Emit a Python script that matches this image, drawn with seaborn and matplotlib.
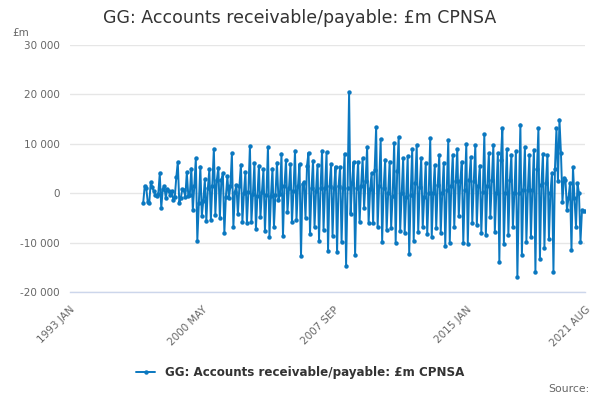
import matplotlib

matplotlib.use("Agg")
import matplotlib.pyplot as plt
from matplotlib.lines import Line2D
import numpy as np
import pandas as pd
import seaborn as sns

TITLE = "GG: Accounts receivable/payable: £m CPNSA"
UNIT = "£m"
AXIS_START = "1993-01"
DATA_START = "1997-02"
DATA_END = "2021-08"

# monthly values, £m (1997 starts in February)
v1997 = [-1900, 1500, 1100, -1800, -2000, 2200, 1300, 400, -300, -600, -200]
v1998 = [4000, -3000, 800, 1400, -900, 800, 400, -300, 500, -1300, -800, 3200]
v1999 = [6300, -1900, -1000, 800, 700, -700, 4200, -500, -300, 5000, -3400, 1500]
v2000 = [7100, -9600, -2000, 5400, -4600, -1500, 2800, -5700, 1000, 4800, -5500, 1500]
v2001 = [9000, -4400, 2700, 5200, -5000, 2700, 4000, -8000, -700, 3400, -1000, 1400]
v2002 = [8100, -6800, 200, 1700, -4200, 1400, 5800, -5800, 0, 4300, -6000, 300]
v2003 = [9600, -5800, -200, 6100, -7300, -500, 5600, -4900, 200, 4800, -7700, -300]
v2004 = [9400, -8800, -600, 5000, -6800, -400, 6200, -1300, -200, 8000, -8700, 1500]
v2005 = [6700, -3900, 1000, 5900, -5900, 500, 8600, -5500, 1500, 5900, -12800, 1900]
v2006 = [2200, -5000, 5600, 8200, -8200, 1000, 6600, -6900, 500, 5800, -9600, 1000]
v2007 = [8600, -7400, 1000, 8300, -11600, 1500, 5900, -8600, 1000, 5400, -12000, 1500]
v2008 = [5300, -9900, 1000, 8000, -14700, 1000, 20400, -4200, 2000, 6300, -12600, 1000]
v2009 = [6300, -5800, 1500, 7100, -3000, 2500, 9400, -6100, 800, 4100, -6100, 4700]
v2010 = [13400, -6800, 1500, 11000, -9800, 1000, 6800, -7500, 0, 6400, -7000, -500]
v2011 = [10200, -10000, 4400, 11400, -7700, 0, 7100, -8100, -700, 7500, -12300, -300]
v2012 = [9000, -9600, 2000, 9800, -7800, 1200, 7100, -6900, -700, 6200, -8300, 0]
v2013 = [11200, -8900, 0, 5700, -7100, 1700, 7700, -8000, 0, 6200, -10600, 700]
v2014 = [10800, -10000, 1400, 7800, -6800, 2400, 8900, -4700, 2400, 6400, -10000, 700]
v2015 = [10000, -10200, 2700, 7300, -6100, 2400, 9700, -6400, 1400, 5600, -8000, 300]
v2016 = [11900, -8500, 1400, 8100, -4900, 2700, 9800, -7800, 0, 8100, -13900, 6800]
v2017 = [13200, -10200, 0, 8900, -8500, 2700, 7800, -6900, 0, 8500, -17000, 0]
v2018 = [13900, -12500, 700, 9400, -9800, 700, 7800, -8800, 700, 8800, -15900, 4800]
v2019 = [13100, -13400, 1700, 8000, -11000, 2000, 7700, -9200, 0, 4100, -15900, 5000]
v2020 = [13200, 2400, 14900, 8100, -1700, 3000, 2700, -3400, -1000, 2000, -11500, 5300]
v2021 = [-1000, -6800, 2000, 0, -9800, -3400, -3700, -3600]

x_labels = ["1993 JAN", "2000 MAY", "2007 SEP", "2015 JAN", "2021 AUG"]
y_ticks = [-20000, -10000, 0, 10000, 20000, 30000]

BLUE = "#0b78c0"
GREY = "#666666"
DARK = "#333333"


def month_index(periods, origin):
    return (periods.year - origin.year) * 12 + (periods.month - origin.month)


yearly = [v1997, v1998, v1999, v2000, v2001, v2002, v2003, v2004, v2005,
          v2006, v2007, v2008, v2009, v2010, v2011, v2012, v2013, v2014,
          v2015, v2016, v2017, v2018, v2019, v2020, v2021]
origin = pd.Period(AXIS_START, freq="M")
periods = pd.period_range(DATA_START, DATA_END, freq="M")
df = pd.DataFrame({
    "month": month_index(periods, origin),
    "value": np.concatenate(yearly),
})

label_periods = pd.PeriodIndex(
    [pd.Period(pd.to_datetime(s, format="%Y %b"), freq="M") for s in x_labels]
)
label_pos = list(month_index(label_periods, origin))
x_end = label_pos[-1]
step = (label_pos[1] - label_pos[0]) // 4
tick_pos = list(range(0, x_end, step)) + [x_end]

sns.set_style("white")
plt.rcParams["font.family"] = ["DejaVu Sans"]

fig = plt.figure(figsize=(6, 4), dpi=100)
ax = fig.add_axes([0.116, 0.27, 0.859, 0.6175])

sns.lineplot(data=df, x="month", y="value", ax=ax, color=BLUE, linewidth=1.4,
             marker="o", markersize=3.2, markeredgewidth=0)

ax.set_xlim(0, x_end)
ax.set_ylim(y_ticks[0], y_ticks[-1])
ax.set_yticks(y_ticks)
ax.set_yticklabels([f"{v:,}".replace(",", " ") for v in y_ticks])
ax.set_xticks(tick_pos)
ax.set_xticklabels([x_labels[label_pos.index(p)] if p in label_pos else ""
                    for p in tick_pos])
ax.set_xlabel("")
ax.set_ylabel("")

ax.grid(axis="y", color="#e6e6e6", linewidth=1)
ax.grid(axis="x", visible=False)
for side in ["top", "right", "left"]:
    ax.spines[side].set_visible(False)
ax.spines["bottom"].set_color("#ccd6eb")
ax.spines["bottom"].set_linewidth(1)

ax.tick_params(axis="y", length=0, pad=7, labelsize=7.5, labelcolor=GREY)
ax.tick_params(axis="x", length=7, width=1, color="#ccd6eb", pad=2,
               labelsize=7.5, labelcolor=GREY)
for lab in ax.get_xticklabels():
    lab.set_rotation(45)
    lab.set_ha("right")
    lab.set_rotation_mode("anchor")

fig.text(0.5, 0.955, TITLE, ha="center", va="center", fontsize=12.5, color=DARK)
fig.text(0.02, 0.918, UNIT, ha="left", va="center", fontsize=7.5, color=GREY)

handle = Line2D([], [], color=BLUE, linewidth=1.4, marker="o", markersize=3.2,
                markeredgewidth=0)
leg = fig.legend([handle], [TITLE], loc="center", bbox_to_anchor=(0.5, 0.068),
                 frameon=False, handlelength=1.6, prop={"size": 8.6, "weight": "bold"})
for t in leg.get_texts():
    t.set_color(DARK)

fig.text(0.983, 0.028, "Source:", ha="right", va="center", fontsize=7.8, color=GREY)

fig.savefig("out.png", dpi=100)
plt.close(fig)
